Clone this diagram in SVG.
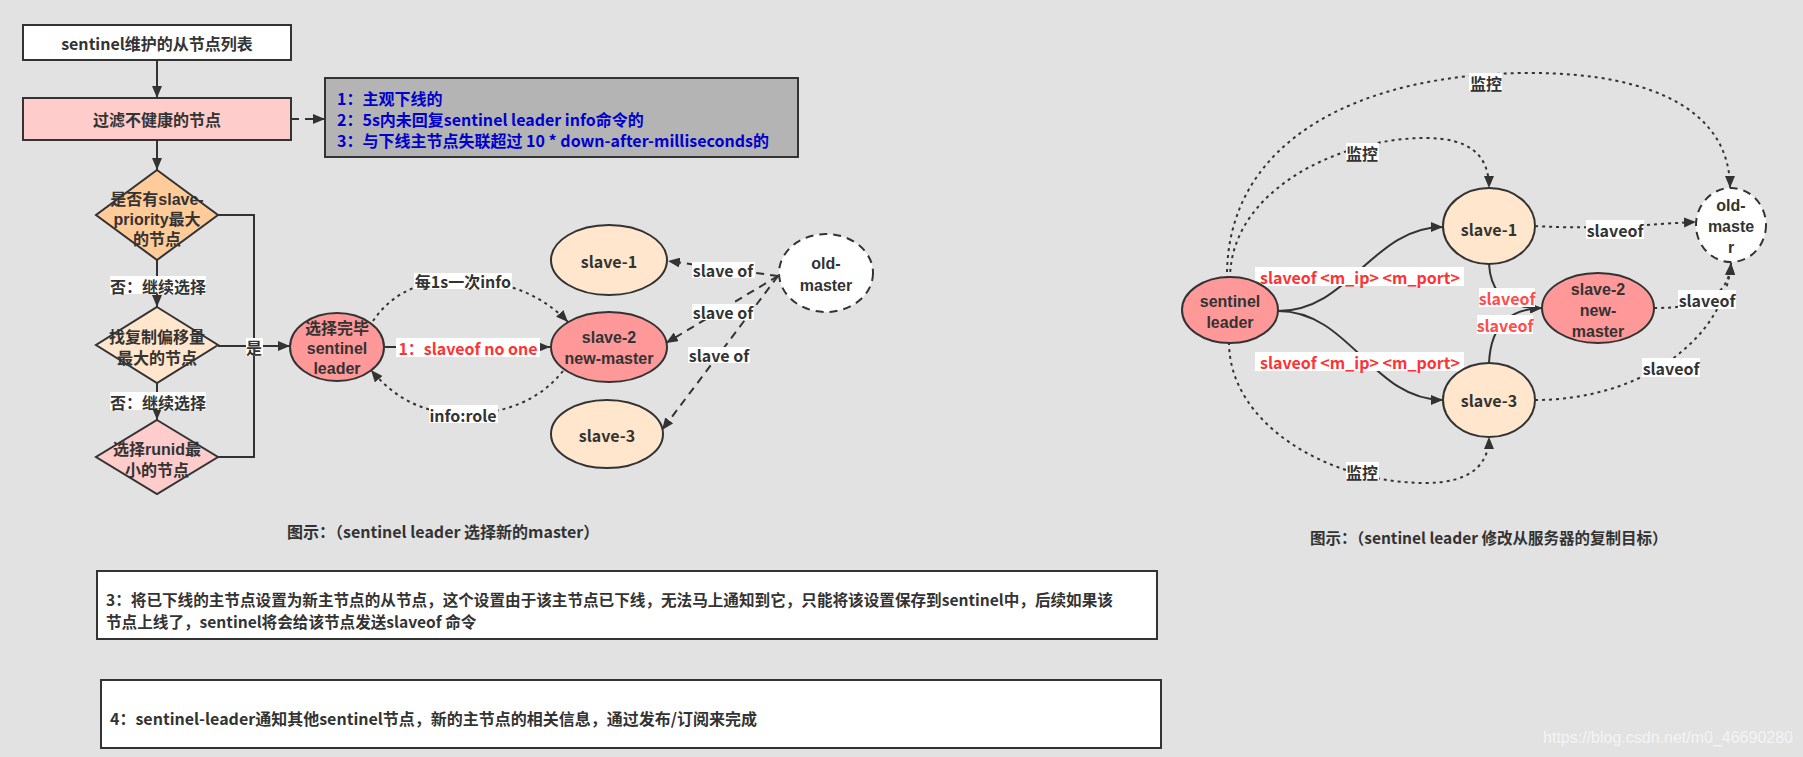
<svg xmlns="http://www.w3.org/2000/svg" width="1803" height="757" viewBox="0 0 1803 757">
<defs>
<marker id="arr" viewBox="0 0 12 10" refX="12" refY="5" markerWidth="12" markerHeight="10" markerUnits="userSpaceOnUse" orient="auto">
<path d="M0,0 L12,5 L0,10 z" fill="#333"/>
</marker>
<style>
text{font-family:"Noto Sans CJK SC","Liberation Sans",sans-serif;font-weight:bold;font-size:16px;fill:#333;}
.m{font-family:"Liberation Sans","Noto Sans CJK SC",sans-serif;}
.c{text-anchor:middle;dominant-baseline:central;}
.red{fill:#ff3333;}
.blue{fill:#0000cc;}
.n{stroke:#333;stroke-width:2;}
.e{fill:none;stroke:#333;stroke-width:2;}
.dot{stroke-dasharray:3 4;}
.dash{stroke-dasharray:8 6;}
.lb{fill:#fff;stroke:none;}
</style>
</defs>
<rect x="0" y="0" width="1803" height="757" fill="#e2e2e2"/>

<g id="connectors">
<path class="e" d="M157,60 L157,98" marker-end="url(#arr)"/>
<path class="e" d="M157,140 L157,170" marker-end="url(#arr)"/>
<path class="e" d="M157,260 L157,307" marker-end="url(#arr)"/>
<path class="e" d="M157,383 L157,420" marker-end="url(#arr)"/>
<path class="e dash" d="M291,119 L325,119" marker-end="url(#arr)"/>
<path class="e" d="M218,215 L254,215 L254,457 L218,457"/>
<path class="e" d="M218,346 L290,346" marker-end="url(#arr)"/>
<path class="e" d="M385,347 L550,347" marker-end="url(#arr)"/>
<path class="e dot" d="M373,321 C392,293 420,280 462,280 C510,280 545,298 568,322" marker-end="url(#arr)"/>
<path class="e dot" d="M563,371 C540,400 505,414 464,414 C420,414 392,395 371,370" marker-end="url(#arr)"/>
<path class="e dash" d="M778,276 L668,261" marker-end="url(#arr)"/>
<path class="e dash" d="M778,276 L666,343" marker-end="url(#arr)"/>
<path class="e dash" d="M778,276 L662,430" marker-end="url(#arr)"/>

<path class="e" d="M1278,311 C1350,311 1372,227 1443,227" marker-end="url(#arr)"/>
<path class="e" d="M1278,311 C1350,311 1372,400 1443,400" marker-end="url(#arr)"/>
<path class="e" d="M1489,264 C1491,298 1512,309 1542,308" marker-end="url(#arr)"/>
<path class="e" d="M1489,363 C1491,322 1512,309 1542,308" marker-end="url(#arr)"/>
<path class="e dot" d="M1535,226 C1600,230 1650,224 1696,222" marker-end="url(#arr)"/>
<path class="e dot" d="M1654,308 C1700,308 1729,298 1731,263" marker-end="url(#arr)"/>
<path class="e dot" d="M1535,400 C1640,400 1725,340 1731,263" marker-end="url(#arr)"/>
<path class="e dot" d="M1227,279 C1225,140 1360,73 1530,73 C1660,73 1730,115 1730,188" marker-end="url(#arr)"/>
<path class="e dot" d="M1230,279 C1230,190 1340,138 1425,138 C1470,138 1489,155 1489,188" marker-end="url(#arr)"/>
<path class="e dot" d="M1229,342 C1229,425 1330,483 1425,483 C1470,483 1489,465 1489,437" marker-end="url(#arr)"/>

<rect class="lb" x="110" y="276" width="96" height="18"/>
<text class="c" x="158" y="286">否：继续选择</text>
<rect class="lb" x="110" y="392" width="96" height="18"/>
<text class="c" x="158" y="402">否：继续选择</text>
<rect class="lb" x="246" y="338" width="17" height="18"/>
<text class="c" x="254" y="347">是</text>
<rect class="lb" x="396" y="338" width="144" height="19"/>
<text class="c red" x="468" y="348">1：slaveof no one</text>
<rect class="lb" x="414" y="273" width="98" height="16"/>
<text class="c" x="463" y="281">每1s一次info</text>
<rect class="lb" x="429" y="405" width="69" height="18"/>
<text class="c" x="463" y="415">info:role</text>
<rect class="lb" x="692" y="262" width="63" height="16"/>
<text class="c" x="723" y="270">slave of</text>
<rect class="lb" x="692" y="304" width="62" height="16"/>
<text class="c" x="723" y="312">slave of</text>
<rect class="lb" x="688" y="347" width="62" height="16"/>
<text class="c" x="719" y="355">slave of</text>

<rect class="lb" x="1469" y="73" width="33" height="18"/>
<text class="c" x="1486" y="83">监控</text>
<rect class="lb" x="1346" y="143" width="33" height="18"/>
<text class="c" x="1362" y="153">监控</text>
<rect class="lb" x="1346" y="462" width="33" height="18"/>
<text class="c" x="1362" y="472">监控</text>
<rect class="lb" x="1255" y="267" width="209" height="19"/>
<text class="c red" x="1360" y="277">slaveof &lt;m_ip&gt; &lt;m_port&gt;</text>
<rect class="lb" x="1255" y="352" width="209" height="19"/>
<text class="c red" x="1360" y="362">slaveof &lt;m_ip&gt; &lt;m_port&gt;</text>
<rect class="lb" x="1479" y="288" width="56" height="19"/>
<text class="c" x="1507" y="298" style="fill:#ff4d4d">slaveof</text>
<rect class="lb" x="1477" y="315" width="56" height="19"/>
<text class="c" x="1505" y="325" style="fill:#ff4d4d">slaveof</text>
<rect class="lb" x="1586" y="220" width="58" height="19"/>
<text class="c" x="1615" y="230">slaveof</text>
<rect class="lb" x="1678" y="290" width="58" height="19"/>
<text class="c" x="1707" y="300">slaveof</text>
<rect class="lb" x="1642" y="358" width="58" height="19"/>
<text class="c" x="1671" y="368">slaveof</text>
</g>

<g id="node-list">
<rect class="n" x="23" y="25" width="268" height="35" fill="#fff"/>
<text class="c" x="157" y="43">sentinel维护的从节点列表</text>
</g>
<g id="node-filter">
<rect class="n" x="23" y="98" width="268" height="42" fill="#ffcccc"/>
<text class="c" x="157" y="119">过滤不健康的节点</text>
</g>
<g id="node-note">
<rect class="n" x="325" y="78" width="473" height="79" fill="#b4b4b4"/>
<text class="blue" x="337" y="98" dominant-baseline="central">1：主观下线的</text>
<text class="blue" x="337" y="119" dominant-baseline="central">2：5s内未回复sentinel leader info命令的</text>
<text class="blue" x="337" y="140" dominant-baseline="central">3：与下线主节点失联超过 10 * down-after-milliseconds的</text>
</g>
<g id="node-d1">
<polygon class="n" points="157,170 218,215 157,260 96,215" fill="#ffcc99"/>
<text class="c m" x="157" y="199">是否有slave-</text>
<text class="c m" x="157" y="219">priority最大</text>
<text class="c m" x="157" y="239">的节点</text>
</g>
<g id="node-d2">
<polygon class="n" points="157,307 218,345 157,383 96,345" fill="#ffe6cc"/>
<text class="c m" x="157" y="337">找复制偏移量</text>
<text class="c m" x="157" y="358">最大的节点</text>
</g>
<g id="node-d3">
<polygon class="n" points="157,420 218,457 157,494 96,457" fill="#ffcccc"/>
<text class="c m" x="157" y="449">选择runid最</text>
<text class="c m" x="157" y="470">小的节点</text>
</g>
<g id="node-leader1">
<ellipse class="n" cx="337" cy="347" rx="47" ry="34" fill="#ff9999"/>
<text class="c m" x="337" y="328">选择完毕</text>
<text class="c m" x="337" y="348">sentinel</text>
<text class="c m" x="337" y="368">leader</text>
</g>
<g id="node-slave1a">
<ellipse class="n" cx="609" cy="260" rx="58" ry="35" fill="#ffe6cc"/>
<text class="c" x="609" y="261">slave-1</text>
</g>
<g id="node-slave2a">
<ellipse class="n" cx="609" cy="347" rx="58" ry="35" fill="#ff9999"/>
<text class="c m" x="609" y="337">slave-2</text>
<text class="c m" x="609" y="358">new-master</text>
</g>
<g id="node-slave3a">
<ellipse class="n" cx="607" cy="434" rx="56" ry="34" fill="#ffe6cc"/>
<text class="c" x="607" y="435">slave-3</text>
</g>
<g id="node-oldmaster-a">
<ellipse class="n dash" cx="826" cy="273" rx="47" ry="39" fill="#fff"/>
<text class="c m" x="826" y="263">old-</text>
<text class="c m" x="826" y="285">master</text>
</g>

<g id="node-leader2">
<ellipse class="n" cx="1230" cy="310" rx="48" ry="33" fill="#ff9999"/>
<text class="c m" x="1230" y="301">sentinel</text>
<text class="c m" x="1230" y="322">leader</text>
</g>
<g id="node-slave1b">
<ellipse class="n" cx="1489" cy="226" rx="46" ry="38" fill="#ffe6cc"/>
<text class="c" x="1489" y="229">slave-1</text>
</g>
<g id="node-slave2b">
<ellipse class="n" cx="1598" cy="308" rx="56" ry="35" fill="#ff9999"/>
<text class="c m" x="1598" y="289">slave-2</text>
<text class="c m" x="1598" y="310">new-</text>
<text class="c m" x="1598" y="331">master</text>
</g>
<g id="node-slave3b">
<ellipse class="n" cx="1489" cy="400" rx="46" ry="37" fill="#ffe6cc"/>
<text class="c" x="1489" y="400">slave-3</text>
</g>
<g id="node-oldmaster-b">
<ellipse class="n dash" cx="1731" cy="225" rx="35" ry="37" fill="#fff"/>
<text class="c m" x="1731" y="205">old-</text>
<text class="c m" x="1731" y="226">maste</text>
<text class="c m" x="1731" y="247">r</text>
</g>

<g id="captions">
<text x="287" y="531" dominant-baseline="central">图示：（sentinel leader 选择新的master）</text>
<text x="1310" y="537" dominant-baseline="central" style="font-size:15.5px">图示：（sentinel leader 修改从服务器的复制目标）</text>
</g>
<g id="node-note3">
<rect class="n" x="97" y="571" width="1060" height="68" fill="#fff"/>
<text x="106" y="599" dominant-baseline="central" style="font-size:15.6px">3：将已下线的主节点设置为新主节点的从节点，这个设置由于该主节点已下线，无法马上通知到它，只能将该设置保存到sentinel中，后续如果该</text>
<text x="106" y="621" dominant-baseline="central" style="font-size:15.6px">节点上线了，sentinel将会给该节点发送slaveof 命令</text>
</g>
<g id="node-note4">
<rect class="n" x="101" y="680" width="1060" height="68" fill="#fff"/>
<text x="110" y="718" dominant-baseline="central">4：sentinel-leader通知其他sentinel节点，新的主节点的相关信息，通过发布/订阅来完成</text>
</g>
<text x="1793" y="737" text-anchor="end" dominant-baseline="central" style="font-family:'Liberation Sans',sans-serif;font-weight:normal;font-size:16px;fill:#f4f4f4;">https://blog.csdn.net/m0_46690280</text>
</svg>
